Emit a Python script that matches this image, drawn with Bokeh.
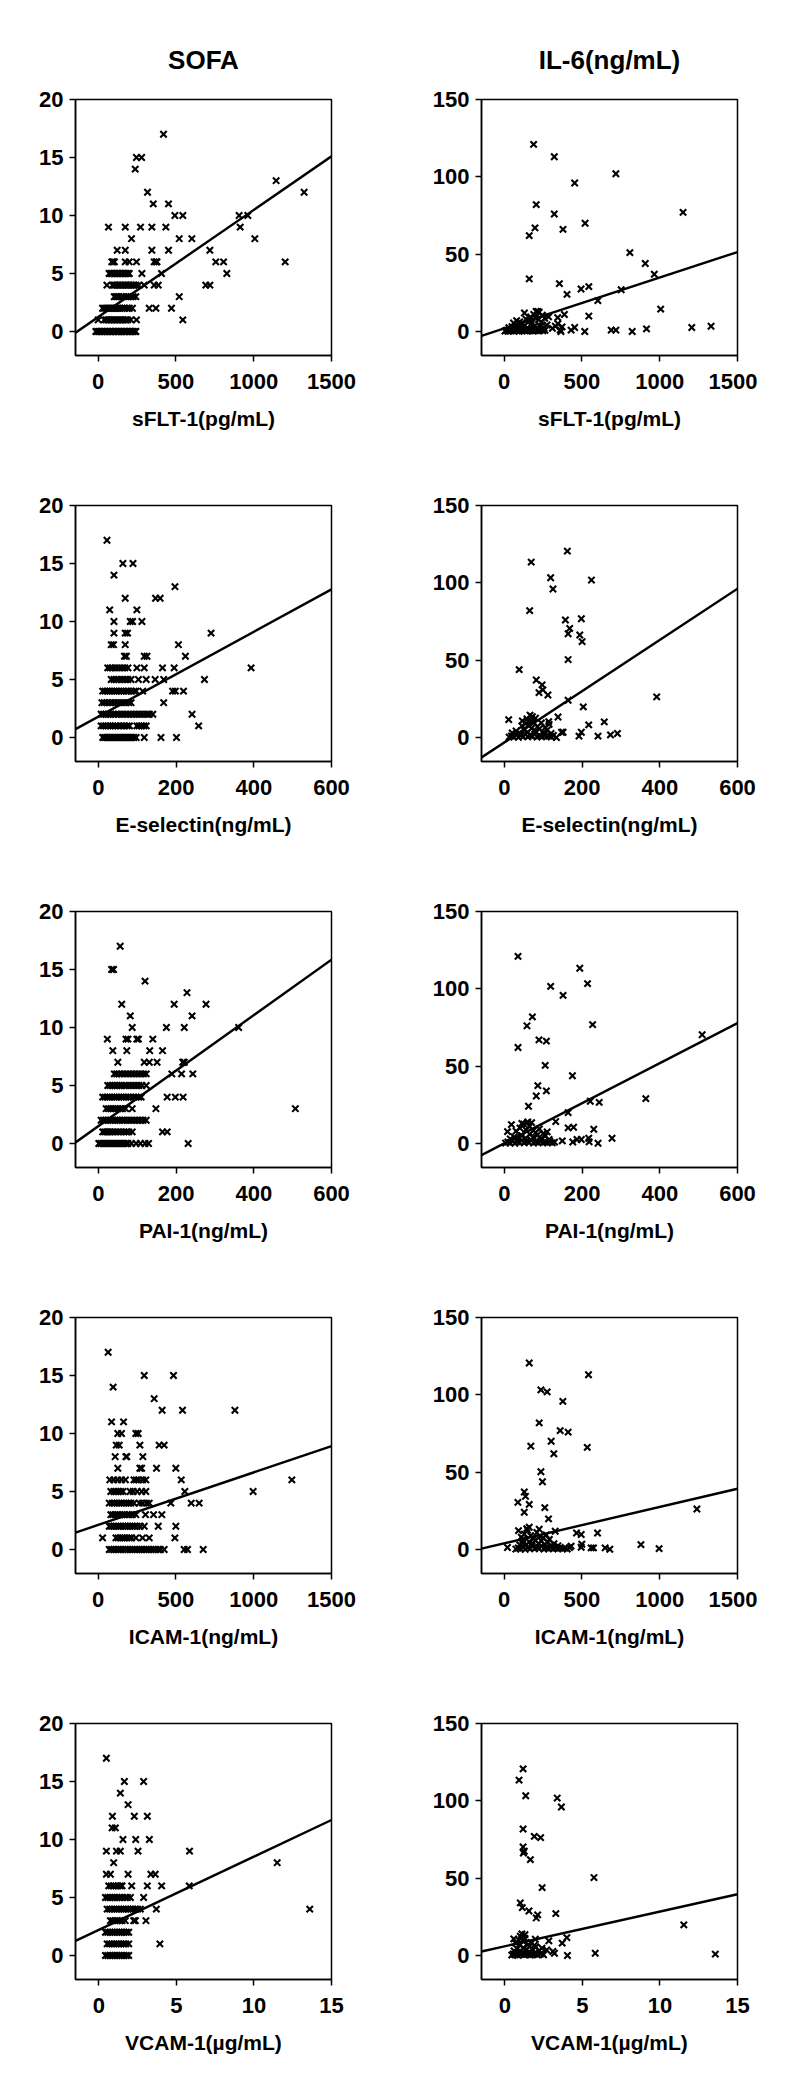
from bokeh.plotting import figure
from bokeh.models import Range1d, FixedTicker
from bokeh.layouts import column, row
from bokeh.embed import file_html
from bokeh.resources import INLINE

# ---------------- data ----------------
col_titles = ["SOFA", "IL-6(ng/mL)"]
x_labels = ["sFLT-1(pg/mL)", "E-selectin(ng/mL)", "PAI-1(ng/mL)", "ICAM-1(ng/mL)", "VCAM-1(\u00b5g/mL)"]
x_ticks = [[0, 500, 1000, 1500], [0, 200, 400, 600], [0, 200, 400, 600], [0, 500, 1000, 1500], [0, 5, 10, 15]]
x_ranges = [(-146, 1500), (-59, 600), (-59, 600), (-146, 1500), (-1.5, 15)]
sofa_ticks = [0, 5, 10, 15, 20]
il6_ticks = [0, 50, 100, 150]
sofa_range = (-2.07, 20)
il6_range = (-15.5, 150)

# SOFA score -> marker x positions
sofa_sflt1 = {
    17: [420], 15: [246, 279], 14: [238], 13: [1144], 12: [317, 1324], 11: [354, 452],
    10: [493, 544, 906, 962], 9: [66, 174, 272, 345, 435, 913], 8: [214, 521, 602, 1007],
    7: [122, 174, 345, 452, 718],
    6: [88, 96, 104, 174, 199, 246, 360, 372, 378, 756, 806, 1202],
    5: [70, 80, 90, 100, 110, 120, 130, 140, 150, 160, 170, 180, 190, 200, 281, 407, 827],
    4: [56, 92, 100, 110, 120, 130, 140, 150, 160, 170, 180, 190, 200, 210, 220, 230, 242, 260, 296, 360, 386, 692, 718],
    3: [103, 112, 122, 132, 150, 165, 180, 195, 210, 225, 242, 521],
    2: [28, 40, 52, 65, 78, 90, 102, 115, 128, 140, 155, 170, 185, 200, 220, 328, 371, 471],
    1: [0, 39, 50, 60, 70, 80, 90, 100, 110, 120, 130, 140, 150, 160, 170, 180, 189, 210, 246, 544],
    0: [-15, -5, 5, 15, 25, 35, 45, 55, 65, 75, 85, 95, 105, 115, 125, 135, 145, 155, 165, 175,
        185, 195, 205, 215, 225, 235, 242],
}
sofa_esel = {
    17: [22], 15: [63, 89], 14: [40], 13: [197], 12: [69, 147, 159], 11: [29, 99],
    10: [40, 82, 88, 112], 9: [40, 69, 75, 290], 8: [33, 39, 69, 206], 7: [67, 72, 118, 125, 224],
    6: [24, 30, 36, 44, 52, 60, 68, 76, 99, 118, 165, 195, 393],
    5: [33, 40, 46, 52, 60, 68, 76, 84, 103, 123, 146, 168, 273],
    4: [11, 17, 23, 29, 35, 41, 47, 53, 59, 65, 71, 77, 85, 92, 97, 114, 191, 198, 219],
    3: [9, 15, 22, 30, 38, 46, 54, 62, 70, 78, 84, 168],
    2: [7, 13, 19, 25, 31, 38, 45, 52, 60, 68, 76, 84, 92, 100, 108, 116, 124, 131, 140, 241],
    1: [7, 13, 19, 25, 31, 37, 43, 50, 58, 66, 74, 80, 99, 105, 111, 117, 123, 258],
    0: [11, 16, 21, 26, 31, 36, 41, 46, 51, 56, 61, 66, 71, 76, 81, 86, 91, 97, 118, 161, 201],
}
sofa_pai1 = {
    17: [56], 15: [34, 39], 14: [120], 13: [228], 12: [60, 195, 277], 11: [82, 241],
    10: [87, 175, 221, 361], 9: [23, 71, 76, 99, 103, 140], 8: [37, 73, 132, 165],
    7: [50, 118, 131, 151, 217, 221],
    6: [41, 47, 53, 60, 68, 76, 84, 92, 100, 108, 116, 123, 189, 214, 243],
    5: [24, 30, 36, 42, 48, 54, 60, 66, 72, 80, 88, 96, 104, 112, 123],
    4: [11, 17, 23, 29, 35, 41, 47, 53, 59, 65, 71, 77, 83, 90, 97, 104, 110, 177, 198, 218],
    3: [20, 26, 32, 38, 44, 50, 56, 62, 70, 87, 148, 507],
    2: [7, 13, 19, 25, 31, 37, 43, 49, 55, 61, 67, 75, 83, 91, 99, 107, 115, 123],
    1: [11, 16, 21, 26, 31, 36, 42, 50, 58, 66, 72, 78, 87, 165, 177],
    0: [1, 6, 11, 16, 21, 26, 31, 36, 41, 46, 51, 56, 61, 66, 71, 76, 85, 97, 108, 120, 129, 231],
}
sofa_icam1 = {
    17: [64], 15: [296, 484], 14: [96], 13: [360], 12: [411, 542, 879], 11: [86, 163],
    10: [126, 150, 242, 257], 9: [116, 135, 268, 392, 424], 8: [109, 178, 184, 287],
    7: [126, 268, 279, 375, 499],
    6: [75, 100, 125, 150, 175, 230, 245, 260, 285, 306, 534, 1245],
    5: [81, 100, 115, 130, 145, 160, 205, 225, 250, 280, 306, 557, 996],
    4: [71, 90, 105, 120, 135, 150, 165, 180, 195, 210, 230, 265, 285, 310, 328, 467, 598, 649],
    3: [81, 95, 110, 125, 140, 155, 170, 185, 200, 220, 242, 304, 356, 409],
    2: [71, 85, 100, 115, 130, 145, 160, 175, 190, 205, 220, 235, 250, 270, 296, 386, 499],
    1: [28, 114, 128, 142, 156, 170, 185, 200, 215, 242, 285, 328, 493],
    0: [71, 85, 100, 115, 130, 145, 160, 175, 190, 205, 220, 235, 250, 265, 280, 295, 310, 325,
        340, 355, 370, 385, 400, 424, 553, 574, 675],
}
sofa_vcam1 = {
    17: [0.49], 15: [1.65, 2.89], 14: [1.39], 13: [1.89], 12: [0.88, 2.29, 3.13], 11: [0.86, 1.07],
    10: [1.56, 2.38, 3.26], 9: [0.49, 1.14, 1.39, 2.53, 5.85], 8: [0.96, 11.5],
    7: [0.49, 0.75, 1.89, 3.36, 3.64],
    6: [0.64, 0.8, 0.95, 1.1, 1.25, 1.4, 1.5, 2.12, 3.13, 4.05, 5.83],
    5: [0.43, 0.58, 0.73, 0.88, 1.03, 1.18, 1.33, 1.5, 1.7, 1.85, 2.04, 2.89],
    4: [0.54, 0.7, 0.85, 1.0, 1.15, 1.3, 1.45, 1.6, 1.75, 1.9, 2.05, 2.2, 2.35, 2.5, 2.68, 3.71, 13.6],
    3: [0.75, 0.9, 1.05, 1.2, 1.35, 1.5, 1.71, 2.25, 2.36, 3.04],
    2: [0.43, 0.58, 0.73, 0.88, 1.03, 1.18, 1.33, 1.48, 1.63, 1.78, 1.93],
    1: [0.54, 0.69, 0.84, 0.99, 1.14, 1.29, 1.44, 1.59, 1.74, 1.93, 3.94],
    0: [0.43, 0.58, 0.73, 0.88, 1.03, 1.18, 1.33, 1.48, 1.63, 1.78, 1.93],
}

# (marker x, IL-6) pairs
il6_sflt1 = [
    (189, 121), (322, 113), (718, 102), (453, 96), (206, 82), (322, 76), (1150, 77), (520, 70),
    (198, 67), (378, 66), (161, 62), (808, 51), (907, 44), (965, 37), (161, 34), (355, 31),
    (544, 29), (494, 27.5), (404, 24), (752, 27), (602, 20), (1006, 14.5), (544, 10), (387, 11),
    (344, 9), (1206, 2.6), (1330, 3.4), (915, 1.7), (823, 0), (688, 0.9), (718, 0.9), (518, 0),
    (430, 0.9), (453, 2.6), (365, 0), (329, 3.4), (310, 2), (345, 5), (372, 3), (360, 1),
    (5, 0.3), (15, 0.8), (25, 0.2), (35, 1.2), (45, 0.5), (55, 0.9), (65, 0.3), (75, 1.5),
    (85, 0.6), (95, 0.2), (105, 1.0), (115, 0.4), (125, 1.3), (135, 0.7), (145, 0.3), (155, 1.1),
    (165, 0.5), (175, 0.8), (185, 0.3), (195, 1.4), (205, 0.6), (215, 0.9), (225, 0.4), (235, 1.2),
    (248, 0.5), (262, 0.8), (30, 2.5), (50, 3.2), (70, 2.2), (90, 4.0), (110, 2.8), (130, 3.6),
    (150, 2.4), (170, 4.4), (190, 3.0), (210, 2.6), (230, 3.8), (255, 2.3), (275, 4.2), (60, 5.5),
    (80, 7.0), (100, 6.2), (120, 5.2), (140, 8.0), (160, 6.8), (180, 5.8), (200, 9.0), (220, 7.5),
    (240, 6.0), (260, 8.5), (285, 9.5), (130, 12.0), (190, 11.0), (205, 13.0), (225, 12.5),
    (245, 10.5), (215, 13.0), (170, 9.5),
]
il6_esel = [
    (162, 120.5), (69, 113.4), (119, 103.3), (224, 101.8), (125, 96), (65, 82), (157, 76),
    (198, 76.8), (168, 70.6), (164, 67.1), (194, 66.3), (200, 62), (164, 50.4), (38, 43.9),
    (82, 37.2), (97, 34), (99, 30.8), (89, 29), (112, 27.5), (392, 26.3), (164, 24.1), (203, 19.8),
    (138, 13.3), (217, 8.2), (257, 10.1), (11, 11.6), (46, 10.8), (114, 10.3), (147, 3.4),
    (151, 3.4), (198, 3.4), (192, 0.9), (241, 0.9), (273, 1.7), (291, 2.6), (134, 0),
    (12, 0.3), (18, 1.0), (24, 0.5), (30, 1.8), (36, 0.2), (42, 1.2), (48, 0.7), (54, 2.0),
    (60, 0.4), (66, 1.4), (72, 0.8), (78, 2.2), (84, 0.3), (90, 1.1), (96, 0.6), (102, 1.6),
    (108, 0.4), (114, 1.0), (120, 0.5), (126, 1.3), (20, 3.0), (30, 4.2), (40, 2.8), (50, 5.0),
    (60, 3.5), (70, 6.0), (80, 4.0), (90, 5.5), (100, 3.2), (110, 4.8), (120, 2.6), (45, 7.5),
    (55, 9.0), (62, 8.0), (68, 11.0), (72, 13.5), (66, 14.5), (75, 10.0), (85, 7.0), (95, 9.5),
    (105, 6.5), (115, 8.5), (58, 12.0), (80, 12.5),
]
il6_pai1 = [
    (35, 121), (194, 113.3), (214, 103.4), (119, 101.6), (151, 95.8), (72, 81.9), (58, 76.1),
    (227, 76.9), (509, 70.3), (89, 67), (108, 66.2), (35, 62.1), (105, 50.5), (175, 43.8),
    (86, 37.4), (108, 34), (82, 30.7), (364, 29), (221, 27.3), (244, 26.6), (62, 24.1), (164, 20),
    (132, 14.2), (164, 10.1), (178, 10.5), (230, 9.2), (277, 3.4), (217, 3.4), (218, 1.1),
    (241, 0.2), (176, 1), (187, 2.6), (198, 2.6), (149, 1.7), (18, 12.2), (8, 7.7),
    (3, 0.3), (9, 1.0), (15, 0.5), (21, 1.6), (27, 0.2), (33, 1.2), (39, 0.7), (45, 2.0),
    (51, 0.4), (57, 1.4), (63, 0.8), (69, 2.2), (75, 0.3), (81, 1.1), (87, 0.6), (93, 1.6),
    (99, 0.4), (105, 1.0), (111, 0.5), (117, 1.3), (123, 0.4), (129, 0.9), (15, 3.0), (25, 4.2),
    (35, 2.8), (45, 5.0), (55, 3.5), (65, 6.0), (75, 4.0), (85, 5.5), (95, 3.2), (105, 4.8),
    (115, 2.6), (30, 8.0), (40, 10.0), (50, 12.5), (55, 9.0), (60, 14.0), (65, 11.0), (70, 13.5),
    (75, 8.5), (80, 7.0), (90, 9.5), (100, 6.5), (110, 7.5), (45, 13.0),
]
il6_icam1 = [
    (161, 120.6), (542, 113), (236, 103.2), (276, 101.9), (377, 95.8), (225, 81.9), (360, 76.9),
    (411, 75.9), (302, 70), (171, 66.8), (534, 66), (319, 61.9), (236, 50.3), (246, 43.8),
    (129, 37.2), (137, 34.4), (88, 30.5), (161, 29.2), (261, 27.1), (129, 24.1), (285, 19.8),
    (1239, 26.2), (879, 3.2), (996, 0.6), (600, 10.7), (465, 10.7), (495, 9.7), (499, 3.4),
    (495, 1.5), (559, 1.1), (574, 1.1), (649, 1.1), (679, 0.2), (161, 14.4), (92, 12.2),
    (225, 13.1), (328, 11.8), (21, 1.3),
    (75, 0.3), (90, 1.0), (105, 0.5), (120, 1.6), (135, 0.2), (150, 1.2), (165, 0.7), (180, 2.0),
    (195, 0.4), (210, 1.4), (225, 0.8), (240, 2.2), (255, 0.3), (270, 1.1), (285, 0.6), (300, 1.6),
    (315, 0.4), (330, 1.0), (345, 0.5), (360, 1.3), (375, 0.4), (390, 0.9), (405, 0.3), (420, 1.2),
    (100, 3.0), (120, 4.2), (140, 2.8), (160, 5.0), (180, 3.5), (200, 6.0), (220, 4.0), (240, 5.5),
    (260, 3.2), (280, 4.8), (300, 2.6), (320, 3.8), (345, 2.4), (430, 2.2), (110, 8.0), (130, 10.0),
    (150, 12.5), (170, 9.0), (190, 7.0), (210, 11.0), (230, 8.5), (250, 7.5), (270, 9.5),
    (290, 6.5), (120, 6.5), (145, 13.5),
]
il6_vcam1 = [
    (1.18, 120.7), (0.92, 113.4), (1.35, 103.3), (3.38, 101.8), (3.65, 96), (1.18, 81.8),
    (1.9, 77), (2.31, 76.2), (1.18, 70.2), (1.26, 67.4), (1.2, 66.3), (1.65, 62), (5.75, 50.4),
    (2.41, 43.9), (1.0, 34), (1.13, 31), (1.56, 28.8), (2.12, 26.3), (2.03, 24.3), (3.29, 27.1),
    (11.54, 19.8), (4.0, 11.6), (3.7, 8), (2.84, 9.5), (1.97, 10.5), (0.58, 10.8), (4.04, 0),
    (5.83, 1.5), (13.57, 0.9), (3.1, 2.6), (3.2, 1.5),
    (0.45, 0.3), (0.55, 1.0), (0.65, 0.5), (0.75, 1.6), (0.85, 0.2), (0.95, 1.2), (1.05, 0.7),
    (1.15, 2.0), (1.25, 0.4), (1.35, 1.4), (1.45, 0.8), (1.55, 2.2), (1.65, 0.3), (1.75, 1.1),
    (1.85, 0.6), (1.95, 1.6), (2.1, 0.4), (2.3, 1.0), (2.5, 0.5), (0.6, 3.0), (0.8, 4.2),
    (1.0, 2.8), (1.2, 5.0), (1.4, 3.5), (1.6, 6.0), (1.8, 4.0), (2.0, 5.5), (2.2, 3.2), (2.4, 4.8),
    (2.7, 3.6), (0.7, 8.0), (0.9, 10.0), (1.0, 12.5), (1.1, 14.0), (1.2, 9.0), (1.3, 11.0),
    (1.5, 7.0), (1.7, 8.5), (1.9, 6.5), (1.3, 13.5), (0.95, 7.0),
]

# regression lines: end values at the left and right edge of each frame
fit_sofa = [(-0.1, 15.1), (0.72, 12.77), (0.09, 15.85), (1.46, 8.91), (1.26, 11.68)]
fit_il6 = [(-2.8, 51.4), (-12.9, 96.2), (-7.5, 77.8), (0.6, 39.3), (2.6, 39.6)]

sofa_sets = [sofa_sflt1, sofa_esel, sofa_pai1, sofa_icam1, sofa_vcam1]
il6_sets = [il6_sflt1, il6_esel, il6_pai1, il6_icam1, il6_vcam1]

FONT = "Liberation Sans"


def style(p, xticks, yticks, xlabel):
    p.xgrid.visible = False
    p.ygrid.visible = False
    p.outline_line_color = "black"
    p.outline_line_width = 1.5
    p.outline_line_alpha = 1.0
    p.xaxis.ticker = FixedTicker(ticks=xticks)
    p.yaxis.ticker = FixedTicker(ticks=yticks)
    p.xaxis.axis_label = xlabel
    for ax in (p.xaxis[0], p.yaxis[0]):
        ax.major_label_text_font = FONT
        ax.major_label_text_font_style = "bold"
        ax.major_label_text_font_size = "22px"
        ax.major_label_text_color = "black"
        ax.axis_line_width = 1.5
        ax.axis_line_color = "black"
        ax.major_tick_line_width = 1.5
        ax.major_tick_line_color = "black"
        ax.major_tick_out = 6
        ax.major_tick_in = 0
        ax.minor_tick_out = 0
        ax.minor_tick_in = 0
    p.xaxis.major_label_standoff = 12
    p.yaxis.major_label_standoff = 6
    p.xaxis.axis_label_text_font = FONT
    p.xaxis.axis_label_text_font_style = "bold"
    p.xaxis.axis_label_text_font_size = "21px"
    p.xaxis.axis_label_text_color = "black"
    p.xaxis.axis_label_standoff = 15


def make(xs, ys, xr, yr, xticks, yticks, xlabel, fit, title, left, right, top, bottom):
    p = figure(frame_width=256, frame_height=256, x_range=Range1d(*xr), y_range=Range1d(*yr),
               output_backend="svg", toolbar_location=None,
               min_border_left=left, min_border_right=right,
               min_border_top=top, min_border_bottom=bottom,
               background_fill_color="white", border_fill_color="white")
    if title:
        p.title.text = title
        p.title.align = "center"
        p.title.text_font = FONT
        p.title.text_font_style = "bold"
        p.title.text_font_size = "26px"
        p.title.text_color = "black"
        p.title.standoff = 50
    style(p, xticks, yticks, xlabel)
    p.line(x=[xr[0], xr[1]], y=[fit[0], fit[1]], line_color="black", line_width=2.4)
    p.scatter(x=xs, y=ys, marker="x", size=9, line_color="black", line_width=2.1)
    return p


rows = []
for i in range(5):
    top = 99 if i == 0 else 40
    bottom = 80 if i == 4 else 110
    sx, sy = [], []
    for score, vals in sofa_sets[i].items():
        for v in vals:
            sx.append(v)
            sy.append(score)
    ix = [a for a, b in il6_sets[i]]
    iy = [b for a, b in il6_sets[i]]
    pl = make(sx, sy, x_ranges[i], sofa_range, x_ticks[i], sofa_ticks, x_labels[i], fit_sofa[i],
              col_titles[0] if i == 0 else None, 75, 40, top, bottom)
    pr = make(ix, iy, x_ranges[i], il6_range, x_ticks[i], il6_ticks, x_labels[i], fit_il6[i],
              col_titles[1] if i == 0 else None, 110, 20, top, bottom)
    rows.append(row(pl, pr))

layout = column(*rows)
open("out.html", "w").write(file_html(layout, INLINE))
